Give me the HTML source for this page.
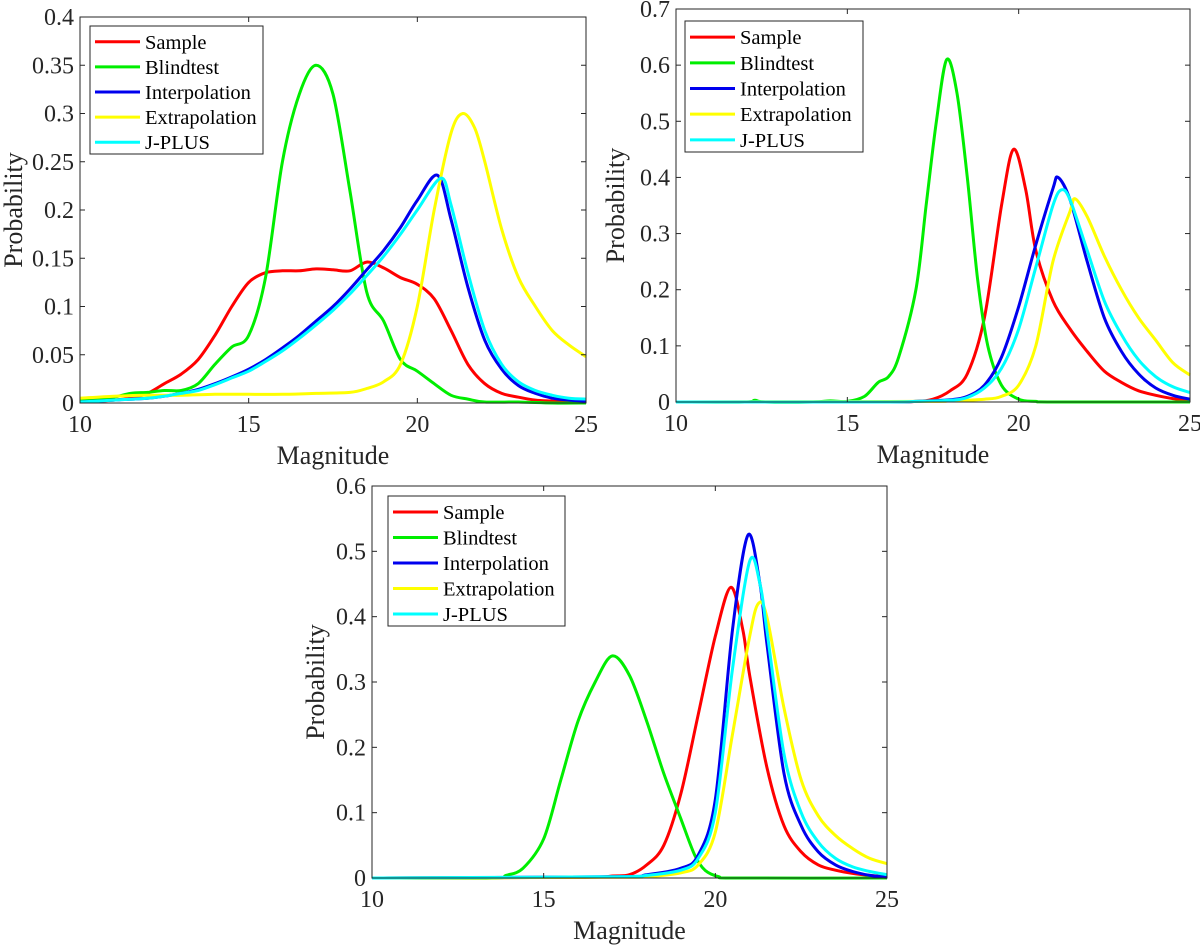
<!DOCTYPE html>
<html><head><meta charset="utf-8">
<style>
html,body{margin:0;padding:0;background:#fff;}
svg{display:block;font-family:"Liberation Serif",serif;}
</style></head>
<body>
<svg id="fig" width="1200" height="946" viewBox="0 0 1200 946"></svg>
<script>
// ---------- Data: panel 1 ----------
const p1SampleX = [10,10.5,11,11.5,12,12.5,13,13.5,14,14.5,15,15.5,16,16.5,17,17.5,18,18.5,19,19.5,20,20.5,21,21.5,22,22.5,23,23.5,24,24.5,25];
const p1SampleY = [0.001,0.002,0.003,0.005,0.01,0.02,0.03,0.045,0.07,0.1,0.125,0.135,0.137,0.137,0.139,0.138,0.137,0.146,0.14,0.13,0.123,0.108,0.075,0.04,0.02,0.01,0.006,0.003,0.002,0.001,0.001];
const p1BlindX = [10,10.5,11,11.5,12,12.5,13,13.5,14,14.5,15,15.5,16,16.5,17,17.5,18,18.5,19,19.5,20,20.5,21,21.5,22,23,24,25];
const p1BlindY = [0.003,0.004,0.006,0.01,0.011,0.013,0.013,0.02,0.04,0.058,0.07,0.13,0.25,0.32,0.35,0.32,0.22,0.115,0.085,0.045,0.033,0.02,0.008,0.004,0.001,0.001,0,0];
const p1InterpX = [10,11,12,12.5,13,13.5,14,14.5,15,15.5,16,16.5,17,17.5,18,18.5,19,19.5,20,20.6,21,21.5,22,22.5,23,23.5,24,24.5,25];
const p1InterpY = [0.001,0.003,0.005,0.007,0.01,0.014,0.02,0.027,0.035,0.045,0.057,0.07,0.085,0.1,0.118,0.138,0.158,0.182,0.21,0.236,0.19,0.12,0.065,0.035,0.018,0.01,0.005,0.003,0.002];
const p1JplusX = [10,11,12,12.5,13,13.5,14,14.5,15,15.5,16,16.5,17,17.5,18,18.5,19,19.5,20,20.7,21,21.5,22,22.5,23,23.5,24,24.5,25];
const p1JplusY = [0.001,0.003,0.005,0.007,0.01,0.013,0.019,0.026,0.033,0.043,0.054,0.067,0.081,0.096,0.113,0.132,0.152,0.175,0.2,0.233,0.205,0.135,0.075,0.04,0.022,0.013,0.008,0.005,0.004];
const p1ExtrapX = [10,11,12,13,14,15,16,17,18,18.5,19,19.5,20,20.5,21,21.35,21.7,22,22.5,23,23.5,24,24.5,25];
const p1ExtrapY = [0.005,0.007,0.008,0.008,0.009,0.009,0.009,0.01,0.011,0.015,0.022,0.04,0.1,0.2,0.28,0.3,0.285,0.25,0.18,0.13,0.1,0.075,0.06,0.048];
// ---------- Data: panel 2 ----------
const p2SampleX = [10,16,17,17.5,18,18.5,19,19.5,19.85,20.2,20.5,21,21.5,22,22.5,23,23.5,24,24.5,25];
const p2SampleY = [0,0,0.001,0.005,0.02,0.05,0.15,0.35,0.45,0.38,0.27,0.18,0.13,0.09,0.055,0.035,0.02,0.012,0.006,0.003];
const p2BlindX = [10,12,12.3,12.6,14,14.5,15,15.5,15.9,16.2,16.5,17,17.3,17.6,17.9,18.2,18.5,18.8,19.1,19.5,20,20.5,21,25];
const p2BlindY = [0,0,0.003,0,0,0.002,0.001,0.01,0.035,0.045,0.08,0.2,0.35,0.5,0.61,0.55,0.4,0.22,0.1,0.03,0.005,0.001,0,0];
const p2InterpX = [10,16,17,18,18.5,19,19.5,20,20.5,21,21.15,21.5,22,22.5,23,23.5,24,24.5,25];
const p2InterpY = [0,0,0.001,0.004,0.01,0.03,0.08,0.17,0.28,0.38,0.4,0.36,0.25,0.15,0.09,0.05,0.025,0.012,0.005];
const p2JplusX = [10,16,17,18,18.5,19,19.5,20,20.5,21,21.25,21.5,22,22.5,23,23.5,24,24.5,25];
const p2JplusY = [0,0,0.001,0.003,0.008,0.025,0.06,0.13,0.24,0.35,0.378,0.36,0.27,0.18,0.12,0.075,0.045,0.027,0.017];
const p2ExtrapX = [10,17,18,19,19.5,20,20.5,21,21.5,21.65,22,22.5,23,23.5,24,24.5,25];
const p2ExtrapY = [0,0.001,0.002,0.005,0.01,0.03,0.1,0.25,0.34,0.362,0.33,0.26,0.2,0.15,0.11,0.07,0.048];
// ---------- Data: panel 3 ----------
const p3SampleX = [10,16,17,17.5,18,18.5,19,19.5,20,20.45,20.8,21,21.5,22,22.5,23,23.5,24,24.5,25];
const p3SampleY = [0,0.001,0.003,0.005,0.02,0.05,0.13,0.25,0.37,0.445,0.38,0.31,0.17,0.08,0.04,0.02,0.012,0.007,0.004,0.002];
const p3BlindX = [10,13.5,13.9,14.4,15,15.5,16,16.5,17,17.5,18,18.5,19,19.4,19.7,20.1,20.6,25];
const p3BlindY = [0,0,0.004,0.015,0.06,0.15,0.24,0.3,0.34,0.31,0.24,0.16,0.09,0.035,0.012,0.002,0,0];
const p3InterpX = [10,17,18,19,19.5,20,20.5,20.95,21.3,21.5,22,22.5,23,23.5,24,24.5,25];
const p3InterpY = [0,0.002,0.005,0.015,0.035,0.12,0.38,0.525,0.45,0.36,0.16,0.08,0.04,0.02,0.01,0.004,0.001];
const p3JplusX = [10,17,18,19,19.5,20,20.5,21,21.3,21.5,22,22.5,23,23.5,24,24.5,25];
const p3JplusY = [0,0.002,0.004,0.012,0.03,0.1,0.32,0.485,0.45,0.38,0.19,0.1,0.055,0.03,0.017,0.01,0.005];
const p3ExtrapX = [10,17,18,19,19.5,20,20.5,21,21.25,21.5,22,22.5,23,23.5,24,24.5,25];
const p3ExtrapY = [0,0.001,0.002,0.008,0.02,0.07,0.22,0.37,0.42,0.4,0.26,0.15,0.095,0.065,0.045,0.03,0.022];
// ---------- Ticks ----------
const xTicks = [10,15,20,25];
const p1YTicks = [0,0.05,0.1,0.15,0.2,0.25,0.3,0.35,0.4];
const p1YLabels = ["0","0.05","0.1","0.15","0.2","0.25","0.3","0.35","0.4"];
const p2YTicks = [0,0.1,0.2,0.3,0.4,0.5,0.6,0.7];
const p2YLabels = ["0","0.1","0.2","0.3","0.4","0.5","0.6","0.7"];
const p3YTicks = [0,0.1,0.2,0.3,0.4,0.5,0.6];
const p3YLabels = ["0","0.1","0.2","0.3","0.4","0.5","0.6"];
const legendNames = ["Sample","Blindtest","Interpolation","Extrapolation","J-PLUS"];
const legendColors = ["#ff0000","#00ee00","#0000ee","#ffff00","#00ffff"];

const NS = "http://www.w3.org/2000/svg";
const svg = document.getElementById("fig");
function mk(tag, attrs, parent){
  const e = document.createElementNS(NS, tag);
  for (const k in attrs) e.setAttribute(k, attrs[k]);
  (parent||svg).appendChild(e);
  return e;
}
function pathFor(pts){
  let d = "M"+pts[0][0].toFixed(1)+","+pts[0][1].toFixed(1);
  for (let i=0;i<pts.length-1;i++){
    const p0=pts[Math.max(0,i-1)], p1=pts[i], p2=pts[i+1], p3=pts[Math.min(pts.length-1,i+2)];
    const t=0.16;
    const c1=[p1[0]+(p2[0]-p0[0])*t, p1[1]+(p2[1]-p0[1])*t];
    const c2=[p2[0]-(p3[0]-p1[0])*t, p2[1]-(p3[1]-p1[1])*t];
    d += " C"+c1[0].toFixed(1)+","+c1[1].toFixed(1)+" "+c2[0].toFixed(1)+","+c2[1].toFixed(1)+" "+p2[0].toFixed(1)+","+p2[1].toFixed(1);
  }
  return d;
}
function panel(cfg){
  const g = mk("g",{});
  
  
  const {L,R,T,B,ymax} = cfg;
  const sx = v => L + (v-10)/15*(R-L);
  const sy = v => B - v/ymax*(B-T);
  cfg.series.forEach((s,i)=>{
    const pts = s.x.map((xv,j)=>[sx(xv), sy(s.y[j])]);
    const p = mk("path",{d:pathFor(pts),fill:"none",stroke:legendColors[i],"stroke-width":3,"stroke-linejoin":"round"},g);
    
    
  });
  const box = mk("rect",{x:L,y:T,width:R-L,height:B-T,fill:"none",stroke:"#262626","stroke-width":1},g);
  
  
  xTicks.forEach(v=>{
    const x = sx(v);
    mk("line",{x1:x,y1:B,x2:x,y2:B-5,stroke:"#262626"},g);
    mk("line",{x1:x,y1:T,x2:x,y2:T+5,stroke:"#262626"},g);
    const t = mk("text",{x:x,y:B+29,"text-anchor":"middle","font-size":24,fill:"#262626"},g);
    t.textContent = v;
    
    
  });
  cfg.yTicks.forEach((v,i)=>{
    const y = sy(v);
    mk("line",{x1:L,y1:y,x2:L+5,y2:y,stroke:"#262626"},g);
    mk("line",{x1:R,y1:y,x2:R-5,y2:y,stroke:"#262626"},g);
    const t = mk("text",{x:L-6,y:y+8,"text-anchor":"end","font-size":24,fill:"#262626"},g);
    t.textContent = cfg.yLabels[i];
    
    
  });
  const xl = mk("text",{x:(L+R)/2,y:B+61,"text-anchor":"middle","font-size":26,fill:"#262626"},g);
  xl.textContent = "Magnitude";
  
  
  const yl = mk("text",{x:0,y:0,"text-anchor":"middle","font-size":26,fill:"#262626",transform:"translate("+cfg.ylx+","+((T+B)/2)+") rotate(-90)"},g);
  yl.textContent = "Probability";
  
  
  const lg = mk("g",{},g);
  
  
  const [lx,ly,lw,lh] = cfg.legend;
  mk("rect",{x:lx,y:ly,width:lw,height:lh,fill:"#fff",stroke:"#262626","stroke-width":1},lg);
  const step = lh/5.1;
  legendNames.forEach((n,i)=>{
    const cy = ly + step*(i+0.55)+2;
    const e = mk("g",{},lg);
    
    
    mk("line",{x1:lx+5,y1:cy,x2:lx+50,y2:cy,stroke:legendColors[i],"stroke-width":3},e);
    const t = mk("text",{x:lx+55,y:cy+7,"font-size":20.5,fill:"#000"},e);
    t.textContent = n;
  });
}
panel({name:"panel-1",L:80,R:586,T:17,B:403,ymax:0.4,yTicks:p1YTicks,yLabels:p1YLabels,ylx:22,legend:[90,26,173,128],
  series:[{x:p1SampleX,y:p1SampleY},{x:p1BlindX,y:p1BlindY},{x:p1InterpX,y:p1InterpY},{x:p1ExtrapX,y:p1ExtrapY},{x:p1JplusX,y:p1JplusY}]});
panel({name:"panel-2",L:676,R:1190,T:9,B:402,ymax:0.7,yTicks:p2YTicks,yLabels:p2YLabels,ylx:624,legend:[685,21,178,131],
  series:[{x:p2SampleX,y:p2SampleY},{x:p2BlindX,y:p2BlindY},{x:p2InterpX,y:p2InterpY},{x:p2ExtrapX,y:p2ExtrapY},{x:p2JplusX,y:p2JplusY}]});
panel({name:"panel-3",L:372,R:887,T:486,B:878,ymax:0.6,yTicks:p3YTicks,yLabels:p3YLabels,ylx:324,legend:[388,496,177,130],
  series:[{x:p3SampleX,y:p3SampleY},{x:p3BlindX,y:p3BlindY},{x:p3InterpX,y:p3InterpY},{x:p3ExtrapX,y:p3ExtrapY},{x:p3JplusX,y:p3JplusY}]});
</script>
</body></html>
